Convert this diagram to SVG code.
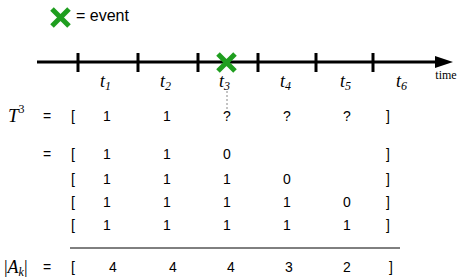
<svg xmlns="http://www.w3.org/2000/svg" width="463" height="280" viewBox="0 0 463 280">
<defs>
<style>
.n{font-family:"Liberation Sans",Arial,sans-serif;font-size:14px;fill:#000;text-anchor:middle}
.m{font-family:"Liberation Serif","Times New Roman",serif;font-style:italic;fill:#000}
.tk{stroke:#000;stroke-width:3}
.x{stroke:#1f9e1f;stroke-width:5}
</style>
</defs>
<g id="legend">
<path class="x" d="M52 9 L69 26 M69 9 L52 26"/>
<text x="76" y="21" font-family="Liberation Sans,Arial,sans-serif" font-size="16">= event</text>
</g>
<g id="connectors">
<line x1="37" y1="62" x2="437" y2="62" stroke="#000" stroke-width="3"/>
<polygon points="435,56 453,62 435,68" fill="#000"/>
<line x1="227" y1="91" x2="227" y2="110" stroke="#888" stroke-width="1" stroke-dasharray="2,2"/>
<line x1="70" y1="248" x2="400" y2="248" stroke="#000" stroke-width="1"/>
</g>
<g id="ticks">
<line class="tk" x1="78" y1="53" x2="78" y2="72"/>
<line class="tk" x1="138" y1="53" x2="138" y2="72"/>
<line class="tk" x1="198" y1="53" x2="198" y2="72"/>
<line class="tk" x1="258" y1="53" x2="258" y2="72"/>
<line class="tk" x1="316" y1="53" x2="316" y2="72"/>
<line class="tk" x1="373" y1="53" x2="373" y2="72"/>
</g>
<g id="event">
<path class="x" d="M218 54 L235 71 M235 54 L218 71"/>
</g>
<g id="tlabels" class="m" font-size="18">
<text x="100" y="87">t<tspan font-size="12" dy="3">1</tspan></text>
<text x="160" y="87">t<tspan font-size="12" dy="3">2</tspan></text>
<text x="219" y="87">t<tspan font-size="12" dy="3">3</tspan></text>
<text x="280" y="87">t<tspan font-size="12" dy="3">4</tspan></text>
<text x="340" y="87">t<tspan font-size="12" dy="3">5</tspan></text>
<text x="396" y="87">t<tspan font-size="12" dy="3">6</tspan></text>
<text x="446" y="79" font-style="normal" font-size="12" text-anchor="middle">time</text>
</g>
<g id="T3">
<text class="m" x="8" y="122" font-size="19">T<tspan font-size="12" dy="-9" font-style="normal">3</tspan></text>
</g>
<g id="rows" class="n">
<text x="47" y="121">=</text><text x="73" y="121">[</text><text x="107" y="121">1</text><text x="167" y="121">1</text><text x="227" y="121">?</text><text x="287" y="121">?</text><text x="347" y="121">?</text><text x="388" y="121">]</text>
<text x="47" y="159">=</text><text x="73" y="159">[</text><text x="107" y="159">1</text><text x="167" y="159">1</text><text x="227" y="159">0</text><text x="388" y="159">]</text>
<text x="73" y="184">[</text><text x="107" y="184">1</text><text x="167" y="184">1</text><text x="227" y="184">1</text><text x="287" y="184">0</text><text x="388" y="184">]</text>
<text x="73" y="207">[</text><text x="107" y="207">1</text><text x="167" y="207">1</text><text x="227" y="207">1</text><text x="287" y="207">1</text><text x="347" y="207">0</text><text x="388" y="207">]</text>
<text x="73" y="230">[</text><text x="107" y="230">1</text><text x="167" y="230">1</text><text x="227" y="230">1</text><text x="287" y="230">1</text><text x="347" y="230">1</text><text x="388" y="230">]</text>
<text x="47" y="272">=</text><text x="73" y="272">[</text><text x="113" y="272">4</text><text x="173" y="272">4</text><text x="231" y="272">4</text><text x="289" y="272">3</text><text x="347" y="272">2</text><text x="391" y="272">]</text>
</g>
<g id="Ak">
<text class="m" x="4" y="273" font-size="18"><tspan font-style="normal">|</tspan>A<tspan font-size="12" dy="3">k</tspan><tspan dy="-3" font-style="normal">|</tspan></text>
</g>
</svg>
